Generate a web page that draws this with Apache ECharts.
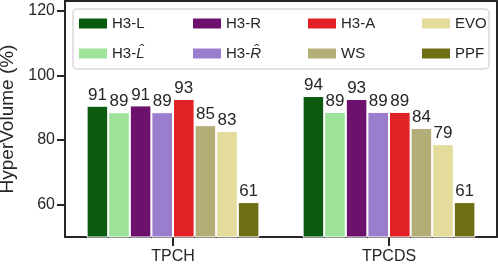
<!DOCTYPE html>
<html><head><meta charset="utf-8">
<script src="https://cdn.jsdelivr.net/npm/echarts@6/dist/echarts.min.js"></script>
<style>html,body{margin:0;padding:0;background:#fff}#c{width:498px;height:273px}</style>
</head><body><div id="c"></div>
<script>
var categories = ['TPCH', 'TPCDS'];
var seriesNames = ['H3-L', 'H3-L\u0302', 'H3-R', 'H3-R\u0302', 'H3-A', 'WS', 'EVO', 'PPF'];
var H3_L   = [90.6, 93.6];
var H3_Lh  = [88.6, 88.7];
var H3_R   = [90.7, 92.7];
var H3_Rh  = [88.6, 88.7];
var H3_A   = [92.7, 88.7];
var WS     = [84.6, 83.7];
var EVO    = [82.8, 78.7];
var PPF    = [60.8, 60.8];
var yTicks = [60, 80, 100, 120];
var colors = ['#0b5a10', '#9de39a', '#6e116e', '#9a7ecd', '#e02226', '#b3ad78', '#e3dc9a', '#6e6e14'];
var values = [H3_L, H3_Lh, H3_R, H3_Rh, H3_A, WS, EVO, PPF];

var textColor = '#262626';
var font = 'Liberation Sans';

var series = seriesNames.map(function (n, i) {
  return {
    name: n, type: 'bar', data: values[i],
    barGap: '0%', barCategoryGap: '20%',
    itemStyle: { color: colors[i], borderColor: '#fff', borderWidth: 1 },
    label: { show: true, position: 'top', distance: 2, fontSize: 17, fontFamily: font, color: textColor,
      formatter: function (p) { return Math.round(p.value); } }
  };
});

function legendFmt(name) {
  if (name.indexOf('\u0302') >= 0) {
    return 'H3-{it|' + name.slice(3) + '}';
  }
  return name;
}

var legendPos = [
  [79, 16], [79, 46], [193, 16], [193, 46], [308, 16], [308, 46], [422, 16], [422, 46]
];
var legends = seriesNames.map(function (n, i) {
  return {
    data: [n], left: legendPos[i][0], top: legendPos[i][1], padding: 0, z: 10,
    itemWidth: 28, itemHeight: 10, icon: 'rect',
    itemStyle: { borderWidth: 0 },
    formatter: legendFmt,
    textStyle: { fontSize: 15, fontFamily: font, color: textColor,
      rich: { it: { fontSize: 15, fontStyle: 'italic', fontFamily: font, color: textColor } } }
  };
});

var axisCol = '#262626';
var chart = echarts.init(document.getElementById('c'), null, { renderer: 'canvas' });
chart.setOption({
  animation: false,
  backgroundColor: '#fff',
  grid: { left: 65, right: 1, top: 1, bottom: 36, outerBoundsMode: 'none', containLabel: false },
  graphic: [{
    type: 'rect', shape: { x: 73, y: 9, width: 416, height: 60, r: 4 },
    style: { fill: '#fff', stroke: '#d9d9d9', lineWidth: 1.5 }, z: 3
  }],
  legend: legends,
  xAxis: [{
    type: 'category', data: categories, position: 'bottom',
    axisLine: { show: true, onZero: false, lineStyle: { color: axisCol, width: 2 } },
    axisTick: { show: true, alignWithLabel: true, interval: 0, length: 9, lineStyle: { color: axisCol, width: 2 } },
    axisLabel: { fontSize: 16, fontFamily: font, color: textColor, margin: 12 }
  }, {
    type: 'category', data: categories, position: 'top',
    axisLine: { show: true, onZero: false, lineStyle: { color: axisCol, width: 2 } },
    axisTick: { show: false }, axisLabel: { show: false }
  }],
  yAxis: [{
    type: 'value', min: 50, max: 123, position: 'left',
    splitLine: { show: false },
    axisLine: { show: true, onZero: false, lineStyle: { color: axisCol, width: 2 } },
    axisTick: { show: true, length: 8, customValues: yTicks, lineStyle: { color: axisCol, width: 2 } },
    axisLabel: { fontSize: 16, fontFamily: font, color: textColor, margin: 10, customValues: yTicks },
    name: 'HyperVolume (%)', nameLocation: 'middle', nameGap: 48,
    nameTextStyle: { fontSize: 19, fontFamily: font, color: textColor }
  }, {
    type: 'value', min: 50, max: 123, position: 'right',
    splitLine: { show: false },
    axisLine: { show: true, onZero: false, lineStyle: { color: axisCol, width: 2 } },
    axisTick: { show: false }, axisLabel: { show: false }
  }],
  series: series
});
</script></body></html>
